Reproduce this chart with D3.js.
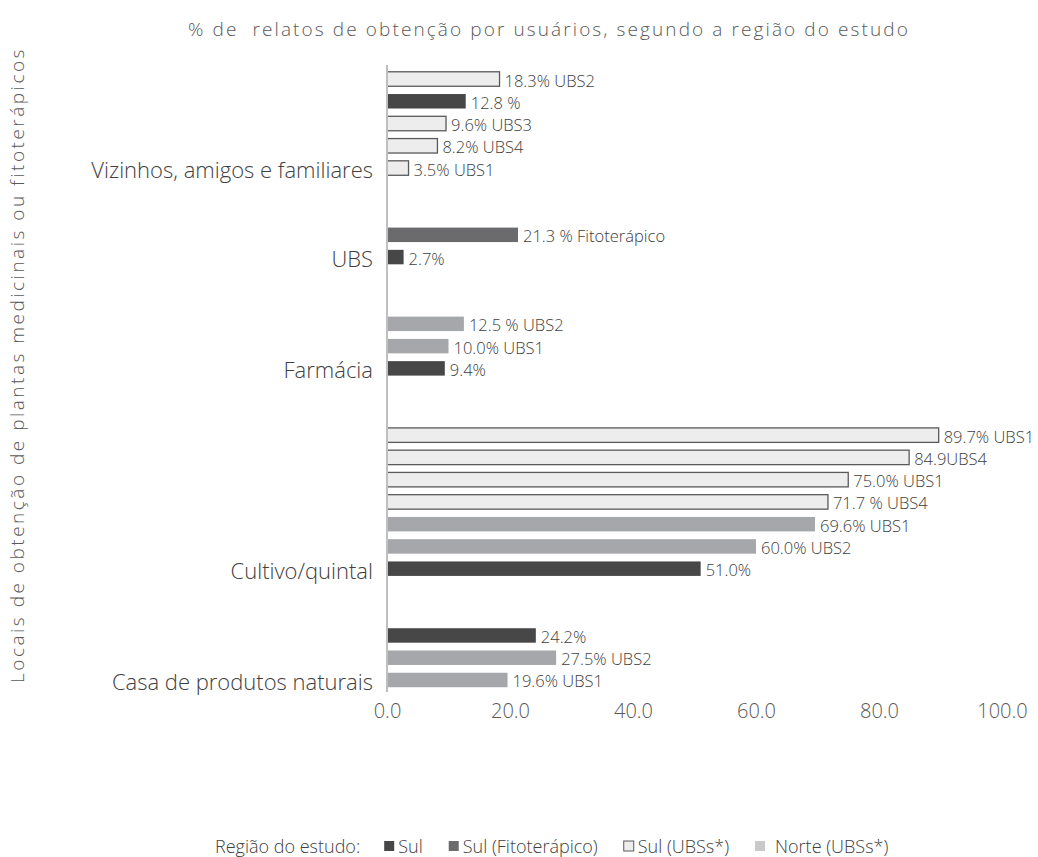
<!DOCTYPE html>
<html>
<head>
<meta charset="utf-8">
<script src="https://cdn.jsdelivr.net/npm/d3@7"></script>
<style>
  body { margin: 0; background: #fff; }
  svg { font-family: "Open Sans", sans-serif; font-weight: 300; }
</style>
</head>
<body>
<svg id="chart" width="1038" height="857"></svg>
<script>
// categories (top to bottom) and the series of the legend
var categories = ['Vizinhos, amigos e familiares', 'UBS', 'Farmácia', 'Cultivo/quintal', 'Casa de produtos naturais'];
var seriesNames = ['Sul', 'Sul (Fitoterápico)', 'Sul (UBSs*)', 'Norte (UBSs*)'];

// one entry per bar, in drawing order
var barCategory = [0, 0, 0, 0, 0, 1, 1, 2, 2, 2, 3, 3, 3, 3, 3, 3, 3, 4, 4, 4];
var barSeries = [2, 0, 2, 2, 2, 1, 0, 3, 3, 0, 2, 2, 2, 2, 3, 3, 0, 0, 3, 3];
var barValues = [18.3, 12.8, 9.6, 8.2, 3.5, 21.3, 2.7, 12.5, 10.0, 9.4, 89.7, 84.9, 75.0, 71.7, 69.6, 60.0, 51.0, 24.2, 27.5, 19.6];
var barLabels = ['18.3% UBS2', '12.8 %', '9.6% UBS3', '8.2% UBS4', '3.5% UBS1',
  '21.3 % Fitoterápico', '2.7%',
  '12.5 % UBS2', '10.0% UBS1', '9.4%',
  '89.7% UBS1', '84.9UBS4', '75.0% UBS1', '71.7 % UBS4', '69.6% UBS1', '60.0% UBS2', '51.0%',
  '24.2%', '27.5% UBS2', '19.6% UBS1'];
var xTicks = [0, 20, 40, 60, 80, 100];

var title = '% de  relatos de obtenção por usuários, segundo a região do estudo';
var yTitle = 'Locais de obtenção de plantas medicinais ou fitoterápicos';
var legendTitle = 'Região do estudo:';

var fills = ['#474747', '#6b6b6d', '#ededed', '#a6a7aa'];
var strokes = [null, null, '#5a5a5a', null];
var legendFills = ['#474747', '#6b6b6d', '#ededed', '#c9c9c9'];

var svg = d3.select('#chart');

var bars = barValues.map(function(v, i) {
  return {id: 'b' + i, value: v, cat: barCategory[i], series: barSeries[i], label: barLabels[i]};
});

// slot domain: bars of each category followed by two empty slots
var slots = [];
categories.forEach(function(c, ci) {
  bars.filter(function(b) { return b.cat === ci; }).forEach(function(b) { slots.push(b.id); });
  if (ci < categories.length - 1) {
    slots.push('gap' + ci + 'a');
    slots.push('gap' + ci + 'b');
  }
});

var x = d3.scaleLinear().domain([0, 100]).range([387, 1002]);
var y = d3.scaleBand().domain(slots).range([68, 691]).paddingInner(0.35).paddingOuter(0.17);

// title
svg.append('text')
  .attr('x', 549)
  .attr('y', 36)
  .attr('text-anchor', 'middle')
  .style('white-space', 'pre')
  .style('font-size', '19px')
  .style('letter-spacing', '2.1px')
  .style('fill', '#595959')
  .text(title);

// y axis title
svg.append('text')
  .attr('transform', 'translate(24,365) rotate(-90)')
  .attr('text-anchor', 'middle')
  .style('font-size', '19px')
  .style('letter-spacing', '2.5px')
  .style('fill', '#595959')
  .text(yTitle);

// bars
svg.append('g').selectAll('rect')
  .data(bars)
  .enter()
  .append('rect')
  .attr('x', x(0))
  .attr('y', function(d) { return y(d.id); })
  .attr('width', function(d) { return x(d.value) - x(0); })
  .attr('height', y.bandwidth())
  .attr('fill', function(d) { return fills[d.series]; })
  .attr('stroke', function(d) { return strokes[d.series] || 'none'; })
  .attr('stroke-width', 1.3);

// value labels
svg.append('g').selectAll('text')
  .data(bars)
  .enter()
  .append('text')
  .attr('x', function(d) { return x(d.value) + 5; })
  .attr('y', function(d) { return y(d.id) + y.bandwidth() / 2 + 1; })
  .attr('dominant-baseline', 'central')
  .style('font-size', '16.5px')
  .style('fill', '#404040')
  .text(function(d) { return d.label; });

// category labels, level with the lowest bar of each category
svg.append('g').selectAll('text')
  .data(categories)
  .enter()
  .append('text')
  .attr('x', 373)
  .attr('y', function(c, ci) {
    var last = bars.filter(function(b) { return b.cat === ci; }).pop();
    return y(last.id) + y.bandwidth() / 2 + 1;
  })
  .attr('text-anchor', 'end')
  .attr('dominant-baseline', 'central')
  .style('font-size', '22px')
  .style('fill', '#404040')
  .text(function(c) { return c; });

// vertical axis line
svg.append('line')
  .attr('x1', x(0)).attr('x2', x(0))
  .attr('y1', 65).attr('y2', 692)
  .attr('stroke', '#bfbfbf')
  .attr('stroke-width', 2);

// x axis
var xAxis = svg.append('g')
  .attr('transform', 'translate(0,692)')
  .call(d3.axisBottom(x).tickValues(xTicks).tickFormat(d3.format('.1f')).tickSize(0).tickPadding(12));
xAxis.select('.domain').remove();
xAxis.selectAll('text')
  .style('font-family', '"Open Sans", sans-serif')
  .style('font-weight', 300)
  .style('font-size', '20px')
  .style('fill', '#595959');

// legend
var legend = svg.append('g').attr('transform', 'translate(215,846)');
function legendText(xPos, s) {
  var t = legend.append('text')
    .attr('x', xPos)
    .attr('dominant-baseline', 'central')
    .style('font-size', '18px')
    .style('fill', '#404040')
    .text(s);
  return t.node().getComputedTextLength();
}
var lx = legendText(0, legendTitle) + 24;
seriesNames.forEach(function(s, i) {
  legend.append('rect')
    .attr('x', lx)
    .attr('y', -5)
    .attr('width', 10)
    .attr('height', 10)
    .attr('fill', legendFills[i])
    .attr('stroke', strokes[i] || 'none')
    .attr('stroke-width', 1);
  var pad = i === 3 ? 20 : 14;
  lx += pad + legendText(lx + pad, s) + 26;
});
</script>
</body>
</html>
